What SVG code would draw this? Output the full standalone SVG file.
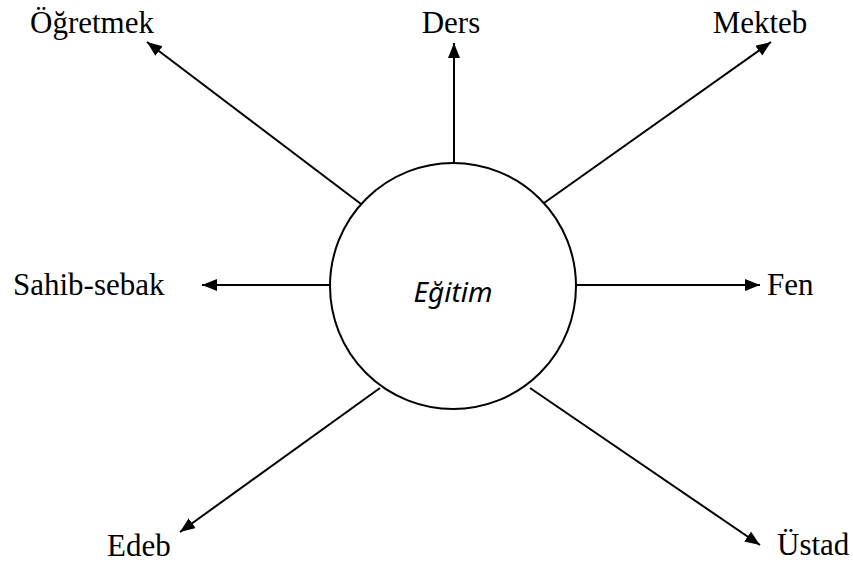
<svg xmlns="http://www.w3.org/2000/svg" width="853" height="565" viewBox="0 0 853 565">
<style>
.conn line{stroke:#000;stroke-width:2;fill:none;marker-end:url(#ah)}
</style>
<defs>
<marker id="ah" markerUnits="userSpaceOnUse" markerWidth="16" markerHeight="13" refX="15" refY="6" orient="auto">
<path d="M0,0 L15,6 L0,12 z" fill="#000"/>
</marker>
</defs>
<rect width="853" height="565" fill="#fff"/>
<g id="connectors" class="conn">
<line x1="454" y1="163" x2="454" y2="43"/>
<line x1="361" y1="204" x2="147" y2="42"/>
<line x1="544" y1="203" x2="771" y2="42"/>
<line x1="330" y1="285" x2="202" y2="285"/>
<line x1="576" y1="285" x2="760" y2="285"/>
<line x1="380" y1="388" x2="180" y2="532"/>
<line x1="530" y1="388" x2="760" y2="545"/>
</g>
<g id="egitim">
<circle cx="453" cy="286" r="123" fill="#fff" stroke="#000" stroke-width="2"/>
<text x="453" y="302" text-anchor="middle" font-family="Noto Sans, Open Sans, sans-serif" font-style="italic" font-size="28">Eğitim</text>
</g>
<g font-family="Liberation Serif, Times New Roman, serif" font-size="31" fill="#000">
<g id="ogretmek"><text x="30" y="33">Öğretmek</text></g>
<g id="ders"><text x="451" y="33" text-anchor="middle">Ders</text></g>
<g id="mekteb"><text x="760" y="33" text-anchor="middle">Mekteb</text></g>
<g id="sahib-sebak"><text x="13" y="295">Sahib-sebak</text></g>
<g id="fen"><text x="767" y="295">Fen</text></g>
<g id="edeb"><text x="107" y="556">Edeb</text></g>
<g id="ustad"><text x="777" y="555">Üstad</text></g>
</g>
</svg>
